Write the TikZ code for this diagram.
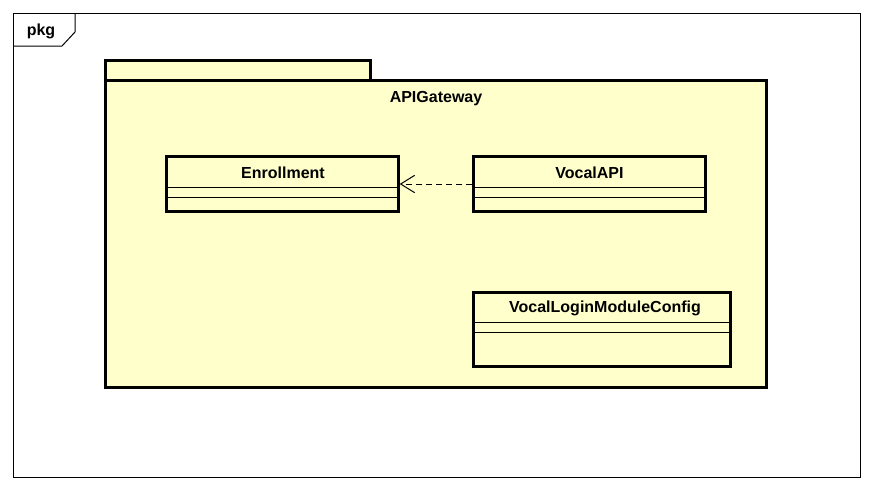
\documentclass[tikz,border=0pt]{standalone}
\usepackage{fontspec}
\setmainfont{Liberation Sans}
\usepackage{xcolor}
\usetikzlibrary{arrows.meta}

\definecolor{pkgyellow}{RGB}{255,255,204}

\tikzset{
  umlbox/.style={draw, line width=2.25pt, fill=pkgyellow, inner sep=0pt},
  umltext/.style={font=\fontsize{12}{14}\selectfont\bfseries, inner sep=0pt},
  compline/.style={line width=0.75pt},
  depend/.style={dash pattern=on 4.5pt off 3pt, line width=0.75pt,
    -{Straight Barb[length=10.5pt,width=13pt,line width=0.75pt]}}
}

\begin{document}
\begin{tikzpicture}[x=0.75pt,y=0.75pt,yscale=-1,xscale=1]
%set diagram left start at 0, and has height of 490
\fill[white] (0,0) rectangle (873,490);
\useasboundingbox (0,0) rectangle (873,490);

%Shape: Frame
\draw [line width=0.75pt] (13,13) rectangle (860,477);
\draw [line width=0.75pt] (13,46) -- (62,46) -- (75,32) -- (75,13);
% Text Node
\node [umltext] (pkg) at (41,31) {pkg};

%Shape: Package tab
\draw [umlbox] (105,60) rectangle (370,80);
%Shape: Package body
\draw [umlbox] (105,80) rectangle (766,387);
% Text Node
\node [umltext] (gateway) at (436,99) {APIGateway};

%Shape: Class Enrollment
\node [umlbox, minimum width=174pt, minimum height=41.6pt] (enr) at (282.2,184) {};
\node [umltext] (enrname) at (283,173) {Enrollment};
\draw [compline] (enr.west |- 0,187) -- (enr.east |- 0,187);
\draw [compline] (enr.west |- 0,197) -- (enr.east |- 0,197);

%Shape: Class VocalAPI
\node [umlbox, minimum width=174pt, minimum height=41.6pt] (vapi) at (589.5,184) {};
\node [umltext] (vapiname) at (589.5,173) {VocalAPI};
\draw [compline] (vapi.west |- 0,187) -- (vapi.east |- 0,187);
\draw [compline] (vapi.west |- 0,197) -- (vapi.east |- 0,197);

%Shape: Class VocalLoginModuleConfig
\node [umlbox, minimum width=192.4pt, minimum height=55.1pt] (vlmc) at (601.8,329.5) {};
\node [umltext] (vlmcname) at (605,308) {VocalLoginModuleConfig};
\draw [compline] (vlmc.west |- 0,322) -- (vlmc.east |- 0,322);
\draw [compline] (vlmc.west |- 0,332) -- (vlmc.east |- 0,332);

%Straight Lines: dependency
\draw [depend] (vapi.west) -- (enr.east);
\end{tikzpicture}
\end{document}
